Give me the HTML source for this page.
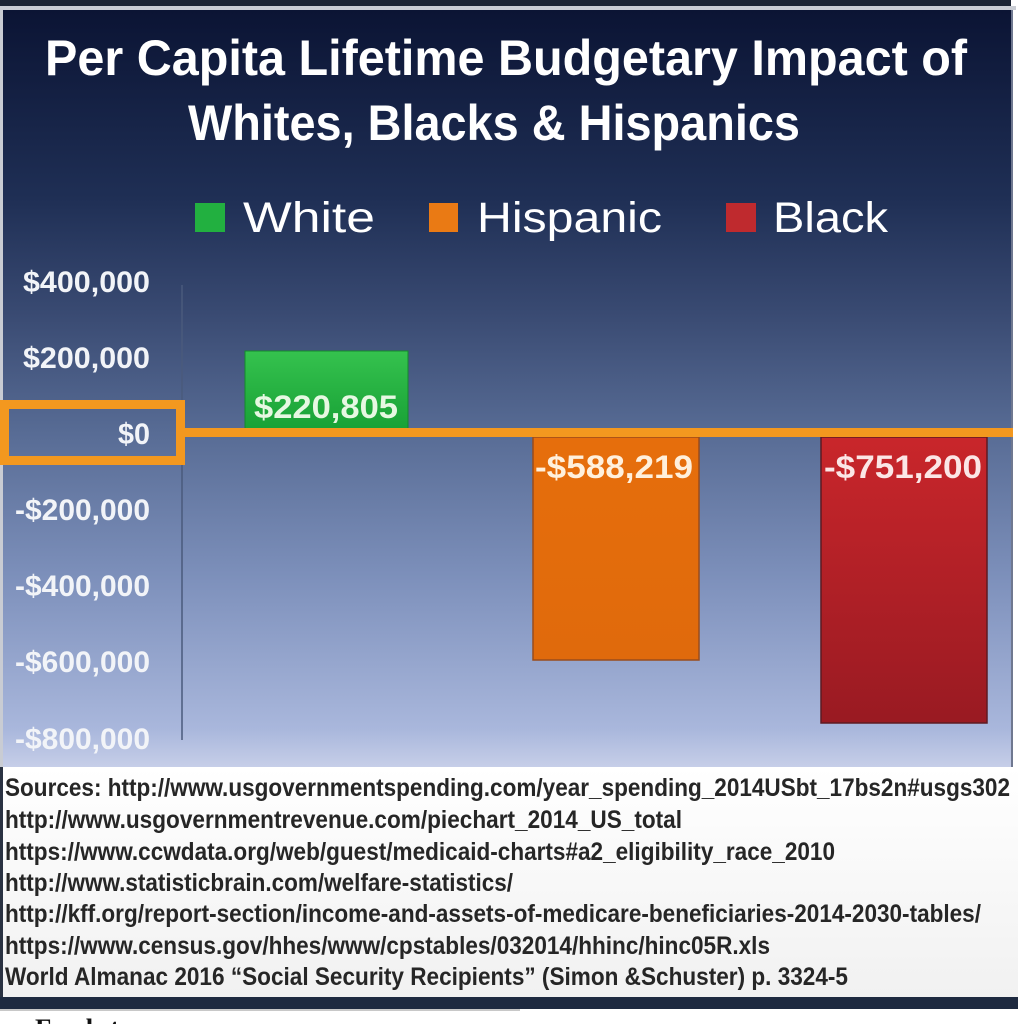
<!DOCTYPE html>
<html><head><meta charset="utf-8"><style>
html,body{margin:0;padding:0;background:#fff;}
svg{display:block;}
</style></head><body>
<svg width="1018" height="1024" viewBox="0 0 1018 1024" xmlns="http://www.w3.org/2000/svg">
<defs>
<linearGradient id="bg" x1="0" y1="0" x2="0" y2="1">
<stop offset="0" stop-color="#0b1434"/>
<stop offset="0.25" stop-color="#1f2f55"/>
<stop offset="0.4" stop-color="#394a72"/>
<stop offset="0.55" stop-color="#566a93"/>
<stop offset="0.75" stop-color="#7d90bb"/>
<stop offset="0.95" stop-color="#a9b7dc"/>
<stop offset="1" stop-color="#c6cee8"/>
</linearGradient>
<linearGradient id="src" x1="0" y1="0" x2="0" y2="1">
<stop offset="0" stop-color="#ffffff"/>
<stop offset="1" stop-color="#f1f1f1"/>
</linearGradient>
<linearGradient id="gb" x1="0" y1="0" x2="0" y2="1">
<stop offset="0" stop-color="#35c24e"/>
<stop offset="1" stop-color="#17a035"/>
</linearGradient>
<linearGradient id="ob" x1="0" y1="0" x2="0" y2="1">
<stop offset="0" stop-color="#e66e0c"/>
<stop offset="1" stop-color="#e06a0c"/>
</linearGradient>
<linearGradient id="rb" x1="0" y1="0" x2="0" y2="1">
<stop offset="0" stop-color="#c9262b"/>
<stop offset="1" stop-color="#991a22"/>
</linearGradient>
</defs>

<rect x="0" y="0" width="1018" height="1024" fill="#ffffff"/>
<!-- top dark band -->
<rect x="0" y="0" width="1011" height="6" fill="#1b2333"/>
<rect x="0" y="6" width="1016" height="4" fill="#c9ccd3"/>
<!-- panel -->
<rect x="3" y="10" width="1010" height="757" fill="url(#bg)"/>
<rect x="1011" y="10" width="2" height="757" fill="#6f7890"/>
<!-- sources area -->
<rect x="3" y="767" width="1015" height="230" fill="url(#src)"/>
<rect x="0" y="10" width="3" height="757" fill="#c9ccd3"/>
<rect x="0" y="767" width="3" height="242" fill="#2a3242"/>
<!-- bottom dark band -->
<rect x="0" y="997" width="1018" height="12" fill="#1e2a40"/>
<rect x="0" y="1009" width="520" height="2" fill="#c8c8c8"/>

<!-- title -->
<g font-family="'Liberation Sans', sans-serif" font-weight="bold" fill="#ffffff" font-size="50">
<text x="45" y="75" textLength="922" lengthAdjust="spacingAndGlyphs">Per Capita Lifetime Budgetary Impact of</text>
<text x="188" y="140" textLength="612" lengthAdjust="spacingAndGlyphs">Whites, Blacks &amp; Hispanics</text>
</g>

<!-- legend -->
<rect x="195" y="203" width="30" height="29" fill="#22b040"/>
<rect x="429" y="203" width="29" height="29" fill="#ea7a14"/>
<rect x="726" y="203" width="30" height="29" fill="#bf2a2e"/>
<g font-family="'Liberation Sans', sans-serif" fill="#ffffff" font-size="43">
<text x="243" y="232" textLength="132" lengthAdjust="spacingAndGlyphs">White</text>
<text x="477" y="232" textLength="185" lengthAdjust="spacingAndGlyphs">Hispanic</text>
<text x="773" y="232" textLength="115" lengthAdjust="spacingAndGlyphs">Black</text>
</g>

<!-- y axis line -->
<line x1="182" y1="285" x2="182" y2="740" stroke="#4a5a7c" stroke-width="1.5"/>

<!-- y labels -->
<g font-family="'Liberation Sans', sans-serif" font-weight="bold" fill="#f2f4f8" font-size="30">
<text x="23" y="292" textLength="127" lengthAdjust="spacingAndGlyphs">$400,000</text>
<text x="23" y="368" textLength="127" lengthAdjust="spacingAndGlyphs">$200,000</text>
<text x="118" y="444" textLength="32" lengthAdjust="spacingAndGlyphs">$0</text>
<text x="15" y="520" textLength="135" lengthAdjust="spacingAndGlyphs">-$200,000</text>
<text x="15" y="596" textLength="135" lengthAdjust="spacingAndGlyphs">-$400,000</text>
<text x="15" y="672" textLength="135" lengthAdjust="spacingAndGlyphs">-$600,000</text>
<text x="15" y="749" textLength="135" lengthAdjust="spacingAndGlyphs">-$800,000</text>
</g>

<!-- bars -->
<rect x="245" y="351" width="163" height="82" fill="url(#gb)" stroke="#138a2c" stroke-width="1"/>
<rect x="533" y="437" width="166" height="223" fill="url(#ob)" stroke="#9a4c1c" stroke-width="1.5"/>
<rect x="821" y="437" width="166" height="286" fill="url(#rb)" stroke="#5e1a22" stroke-width="1.5"/>

<!-- zero line & highlight box -->
<rect x="185" y="428" width="828" height="9" fill="#f3981f"/>
<rect x="4.5" y="404.5" width="176" height="56" fill="none" stroke="#f3981f" stroke-width="9"/>

<!-- bar labels -->
<g font-family="'Liberation Sans', sans-serif" font-weight="bold" font-size="32">
<text x="254" y="418" textLength="144" lengthAdjust="spacingAndGlyphs" fill="#e6f8e2">$220,805</text>
<text x="535" y="478" textLength="158" lengthAdjust="spacingAndGlyphs" fill="#fff0dc">-$588,219</text>
<text x="824" y="478" textLength="158" lengthAdjust="spacingAndGlyphs" fill="#fbe6e6">-$751,200</text>
</g>

<!-- sources -->
<g font-family="'Liberation Sans Narrow', 'Liberation Sans', sans-serif" font-weight="bold" fill="#262626" font-size="25">
<text x="5" y="796" textLength="1005" lengthAdjust="spacingAndGlyphs">Sources: http://www.usgovernmentspending.com/year_spending_2014USbt_17bs2n#usgs302</text>
<text x="5" y="828" textLength="677" lengthAdjust="spacingAndGlyphs">http://www.usgovernmentrevenue.com/piechart_2014_US_total</text>
<text x="5" y="860" textLength="830" lengthAdjust="spacingAndGlyphs">https://www.ccwdata.org/web/guest/medicaid-charts#a2_eligibility_race_2010</text>
<text x="5" y="891" textLength="508" lengthAdjust="spacingAndGlyphs">http://www.statisticbrain.com/welfare-statistics/</text>
<text x="5" y="922" textLength="976" lengthAdjust="spacingAndGlyphs">http://kff.org/report-section/income-and-assets-of-medicare-beneficiaries-2014-2030-tables/</text>
<text x="5" y="954" textLength="765" lengthAdjust="spacingAndGlyphs">https://www.census.gov/hhes/www/cpstables/032014/hhinc/hinc05R.xls</text>
<text x="5" y="985" textLength="843" lengthAdjust="spacingAndGlyphs">World Almanac 2016 “Social Security Recipients” (Simon &amp;Schuster) p. 3324-5</text>
</g>

<!-- cut-off text at bottom -->
<text x="35" y="1036" font-family="'Liberation Serif', serif" font-weight="bold" font-size="25" fill="#111" textLength="145" lengthAdjust="spacingAndGlyphs">Food stamps</text>
</svg>
</body></html>
